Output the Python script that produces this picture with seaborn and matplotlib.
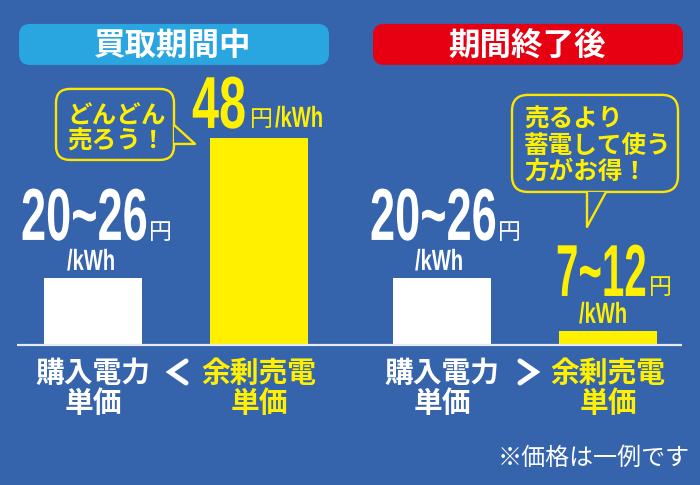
import matplotlib.pyplot as plt
import matplotlib.patheffects as pe
from matplotlib.patches import FancyBboxPatch, Polygon
from matplotlib.transforms import Affine2D
import pandas as pd
import seaborn as sns

# =========================================================================
# 1. DADOS
# =========================================================================
categorias = ["購入電力\n単価", "余剰売電\n単価"]
altura_durante = [15.5, 48]  # a barra branca nao segue a escala do rotulo
altura_depois = [15.5, 3.2]
titulos = ["買取期間中", "期間終了後"]
rotulos_durante = ["20~26", "48"]
rotulos_depois = ["20~26", "7~12"]
unidade = "円"
por_kwh = "/kWh"
balao_esq = "どんどん\n売ろう！"
balao_dir = "売るより\n蓄電して使う\n方がお得！"
nota = "※価格は一例です"

# Configurações estéticas
sns.set_theme(style="white")
fundo = "#3564AC"
branco = "#FFFFFF"
amarelo = "#FFF000"
paleta = [branco, amarelo]
plt.rcParams["font.family"] = ["Noto Sans CJK JP", "DejaVu Sans"]
plt.rcParams["figure.facecolor"] = fundo
plt.rcParams["axes.facecolor"] = "none"

estreita = ["Liberation Sans Narrow", "Liberation Sans", "DejaVu Sans"]


# Estica o texto na vertical, os numeros da figura sao altos e estreitos
class Estica(pe.AbstractPathEffect):
    def __init__(self, sy):
        self.sy = sy

    def draw_path(self, renderer, gc, tpath, affine, rgbFace=None):
        renderer.draw_path(gc, tpath, Affine2D().scale(1.0, self.sy) + affine, rgbFace)


# =========================================================================
# BLOCO 1: BARRAS
# =========================================================================
print("-> Gerando as barras...")
fig = plt.figure(figsize=(7, 4.851), dpi=100)

df_durante = pd.DataFrame({"item": categorias, "valor": altura_durante})
ax1 = fig.add_axes([10 / 700, 140 / 485, 332 / 700, 275 / 485])
sns.barplot(data=df_durante, x="item", y="valor", hue="item", palette=paleta, width=0.59, saturation=1, linewidth=0, ax=ax1)

df_depois = pd.DataFrame({"item": categorias, "valor": altura_depois})
ax2 = fig.add_axes([359 / 700, 140 / 485, 332 / 700, 275 / 485])
sns.barplot(data=df_depois, x="item", y="valor", hue="item", palette=paleta, width=0.59, saturation=1, linewidth=0, ax=ax2)

for ax in [ax1, ax2]:
    ax.set_ylim(0, 63.77)
    ax.set_xlim(-0.5, 1.5)
    ax.set_xlabel("")
    ax.set_ylabel("")
    ax.set_yticks([])
    ax.tick_params(axis="x", length=0, pad=9.5, labelsize=20.7)
    sns.despine(ax=ax, left=True, bottom=True)
    for rotulo, cor in zip(ax.get_xticklabels(), paleta):
        rotulo.set_color(cor)
        rotulo.set_fontweight("bold")
        rotulo.set_linespacing(1.0)

# =========================================================================
# BLOCO 2: TEXTOS E BALOES (eixo por cima, em pixels)
# =========================================================================
print("-> Gerando textos e baloes...")
topo = fig.add_axes([0, 0, 1, 1], zorder=5)
topo.set_xlim(0, 700)
topo.set_ylim(485, 0)
topo.axis("off")

topo.plot([17, 682], [345, 345], color="#E4EAF4", lw=1.6, solid_capstyle="butt")

# faixas de titulo
for x0, cor, titulo in zip([19, 373], ["#29A5E0", "#E60012"], titulos):
    topo.add_patch(FancyBboxPatch((x0 + 10, 34), 290, 21, boxstyle="round,pad=10,rounding_size=11", fc=cor, ec="none"))
    topo.text(x0 + 154, 46, titulo, color=branco, fontsize=22.7, fontweight="bold", ha="center", va="center")

# numeros grandes
for x0, y0, txt, cor, tam in [
    (21, 240, rotulos_durante[0], branco, 32.5),
    (192, 128, rotulos_durante[1], amarelo, 35),
    (370, 240, rotulos_depois[0], branco, 32.5),
    (556, 296, rotulos_depois[1], amarelo, 29),
]:
    topo.text(x0, y0, txt, color=cor, fontsize=tam, fontweight="bold", family=estreita, ha="left", va="baseline", path_effects=[Estica(53 / tam)])

# unidades
for x0, y0, cor in [(149, 239, branco), (250, 126, amarelo), (498, 239, branco), (649, 294, amarelo)]:
    topo.text(x0, y0, unidade, color=cor, fontsize=16.5, ha="left", va="baseline")
for x0, y0, cor in [(67, 270, branco), (275, 127, amarelo), (415, 270, branco), (579, 323, amarelo)]:
    topo.text(x0, y0, por_kwh, color=cor, fontsize=14.5, fontweight="bold", family=estreita, ha="left", va="baseline", path_effects=[Estica(1.45)])

# baloes
linha = "#FFE600"
topo.add_patch(FancyBboxPatch((68, 101), 94, 47, boxstyle="round,pad=12,rounding_size=14", fc="none", ec=linha, lw=1.7))
topo.add_patch(Polygon([(174, 125), (174, 144), (195, 144)], closed=True, fc=fundo, ec="none", zorder=3))
topo.plot([174, 195, 174], [125, 144, 144], color=linha, lw=1.7, zorder=4)
topo.text(67, 129, balao_esq, color=amarelo, fontsize=17.7, fontweight="bold", ha="left", va="center", linespacing=1.02)

topo.add_patch(FancyBboxPatch((526, 109), 138, 69, boxstyle="round,pad=14,rounding_size=16", fc="none", ec=linha, lw=1.7))
topo.add_patch(Polygon([(587, 192), (587, 227), (606, 192)], closed=True, fc=fundo, ec="none", zorder=3))
topo.plot([587, 587, 606], [192, 227, 192], color=linha, lw=1.7, zorder=4)
topo.text(524, 146, balao_dir, color=amarelo, fontsize=17.7, fontweight="bold", ha="left", va="center", linespacing=1.1)

# sinais de comparacao
topo.plot([186, 170, 186], [361, 372, 383], color=branco, lw=3.6, solid_joinstyle="miter")
topo.plot([520, 536, 520], [361, 372, 383], color=branco, lw=3.6, solid_joinstyle="miter")

topo.text(690, 458, nota, color=branco, fontsize=17.3, ha="right", va="center")

plt.savefig("out.png", dpi=100)
plt.close()

print("[FINALIZADO!]")
